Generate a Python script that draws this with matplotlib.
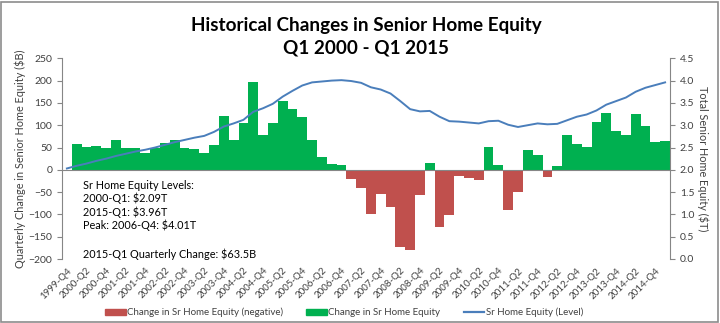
import numpy as np
import matplotlib
matplotlib.use("Agg")
import matplotlib.pyplot as plt
from matplotlib.patches import Patch, Rectangle
from matplotlib.lines import Line2D

plt.rcParams['font.family'] = ['Lato', 'DejaVu Sans']

# === data ===
quarters = [f"{y}-Q{q}" for y in range(1999, 2016) for q in range(1, 5)]
quarters = quarters[quarters.index("1999-Q4"):quarters.index("2015-Q1") + 1]

# quarterly change ($B), 2000-Q1 .. 2015-Q1
changes = [58, 51, 54, 48, 67, 49, 49, 37, 49, 60, 67, 49, 46, 38, 55, 120,
           67, 105, 197, 79, 104, 155, 137, 119, 66, 28, 13, 11,
           -21, -40, -99, -54, -84, -172, -179, -56, 16, -129, -101, -14,
           -19, -23, 52, 10, -91, -49, 44, 34, -16, 9, 79, 58,
           51, 108, 127, 87, 78, 126, 98, 63, 63.5]

# total senior home equity ($T), 1999-Q4 .. 2015-Q1
levels = [2.03, 2.09, 2.14, 2.20, 2.25, 2.31, 2.36, 2.41, 2.45, 2.50, 2.56,
          2.62, 2.67, 2.72, 2.76, 2.85, 2.97, 3.04, 3.12, 3.30, 3.38, 3.48,
          3.64, 3.77, 3.89, 3.96, 3.98, 4.00, 4.01, 3.99, 3.95, 3.85, 3.80,
          3.71, 3.54, 3.36, 3.31, 3.32, 3.19, 3.09, 3.08, 3.06, 3.04, 3.09,
          3.10, 3.01, 2.96, 3.00, 3.04, 3.02, 3.03, 3.11, 3.19, 3.24, 3.33,
          3.46, 3.54, 3.62, 3.75, 3.84, 3.90, 3.96]

note_lines = ["Sr Home Equity Levels:", "2000-Q1: $2.09T", "2015-Q1: $3.96T",
              "Peak: 2006-Q4: $4.01T", "", "2015-Q1 Quarterly Change: $63.5B"]

RED = '#C0504D'
GREEN = '#00B050'
BLUE = '#4A7EBB'
AXC = '#868686'
TXT = '#404040'

W, H = 720, 323
fig = plt.figure(figsize=(W / 100, H / 100), dpi=100)
fig.patch.set_facecolor('white')

# chart border
fig.patches.append(Rectangle((1 / W, 1 / H), 1 - 3 / W, 1 - 3 / H, transform=fig.transFigure,
                             fill=False, edgecolor='#8c8c8c', lw=1.2))

ax = fig.add_axes([62 / W, 1 - 259 / H, 608 / W, (259 - 58.3) / H])
ax2 = ax.twinx()

x = np.arange(len(quarters))
xb = x[1:]
ch = np.array(changes, dtype=float)
ax.bar(xb[ch < 0], ch[ch < 0], width=1.0, color=RED, zorder=2)
ax.bar(xb[ch >= 0], ch[ch >= 0], width=1.0, color=GREEN, zorder=2)
ax.axhline(0, color=AXC, lw=0.8, zorder=3)

ax2.plot(x, levels, color=BLUE, lw=1.4, zorder=4)

ax.set_xlim(-0.5, len(quarters) - 0.5)
ax.set_ylim(-200, 250)
ax.set_yticks(np.arange(-200, 251, 50))
ax2.set_ylim(0, 4.5)
ax2.set_yticks(np.arange(0, 4.51, 0.5))
ax2.set_yticklabels([f"{v:.1f}" for v in np.arange(0, 4.51, 0.5)])

ax.set_xticks(x[::2])
ax.set_xticklabels(quarters[::2], rotation=45, ha='right', va='top',
                   rotation_mode='anchor', fontsize=7, color=TXT)
ax.tick_params(axis='x', length=0, pad=5)
ax.tick_params(axis='y', labelsize=7.5, colors=TXT, length=3.5, color=AXC, width=0.8)
ax2.tick_params(axis='y', labelsize=7.5, colors=TXT, length=3.5, color=AXC, width=0.8)

for a in (ax, ax2):
    for s in ('top', 'bottom'):
        a.spines[s].set_visible(False)
    a.spines['left'].set_color(AXC)
    a.spines['right'].set_color(AXC)
    a.spines['left'].set_linewidth(0.8)
    a.spines['right'].set_linewidth(0.8)
ax.spines['right'].set_visible(False)
ax2.spines['left'].set_visible(False)

ax.set_ylabel("Quarterly Change in Senior Home Equity ($B)", fontsize=7.8, color=TXT, labelpad=2)
ax2.set_ylabel("Total Senior Home Equity ($T)", fontsize=7.8, color=TXT, rotation=270,
               labelpad=10)

# notes box
ys = [185, 198, 212, 225, 239, 254]
for t, yp in zip(note_lines, ys):
    if t:
        ax.text((83 - 62) / 608, (259 - yp) / (259 - 58.3), t, transform=ax.transAxes,
                fontsize=7.8, color='black', va='center', ha='left')

# title
fig.text(366 / W, 1 - 30.5 / H, "Historical Changes in Senior Home Equity", fontsize=13.6,
         fontweight='bold', ha='center', va='baseline')
fig.text(366 / W, 1 - 53.5 / H, "Q1 2000 - Q1 2015", fontsize=13.6,
         fontweight='bold', ha='center', va='baseline')

handles = [Patch(color=RED), Patch(color=GREEN), Line2D([], [], color=BLUE, lw=1.6)]
labels = ["Change in Sr Home Equity (negative)", "Change in Sr Home Equity",
          "Sr Home Equity (Level)"]
fig.legend(handles, labels, loc='center', bbox_to_anchor=(344 / W, 1 - 312.5 / H), ncol=3,
           frameon=False, fontsize=7.0, handlelength=2.1, handleheight=0.55,
           handletextpad=0.15, columnspacing=2.4, labelcolor=TXT)

fig.savefig("out.png", dpi=100)
